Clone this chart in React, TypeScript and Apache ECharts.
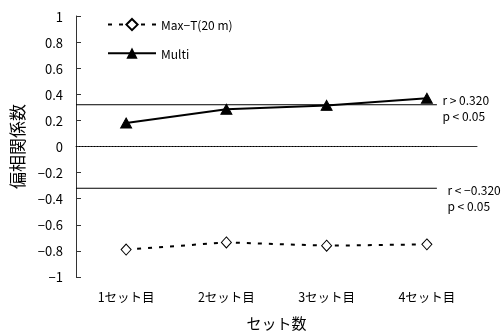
import React, { useEffect, useRef } from "react";
import * as echarts from "echarts";

const categories = ["1セット目", "2セット目", "3セット目", "4セット目"];
const maxTValues = [-0.79, -0.735, -0.76, -0.75];
const multiValues = [0.18, 0.285, 0.315, 0.37];
const posThreshold = 0.32;
const negThreshold = -0.32;
const zeroLevel = 0;
// reference lines span the plot from its left edge to 90% of its width
const refLineX = [0, 3.6];

const FONT = "'Noto Sans CJK JP', 'Noto Sans', sans-serif";

const fmtY = (v: number) => {
  const n = Number(v.toFixed(1));
  return n === 0 ? "0" : String(n).replace("-", "−");
};

export default function App() {
  const ref = useRef<HTMLDivElement>(null);

  useEffect(() => {
    if (!ref.current) return;
    const chart = echarts.init(ref.current, undefined, { renderer: "svg" });

    const refLine = (y: number, type: any, label: any) => ({
      type: "line",
      xAxisIndex: 1,
      yAxisIndex: 0,
      silent: true,
      symbol: "circle",
      symbolSize: 1,
      showSymbol: true,
      itemStyle: { color: "transparent", borderColor: "transparent", borderWidth: 0 },
      lineStyle: { color: "#000", width: 1, type },
      data: refLineX.map((x, i) => ({
        value: [x, y],
        label: i === refLineX.length - 1 && label ? label : { show: false },
      })),
      z: 1,
    });

    const thresholdLabel = (text: string, distance: number, dy: number) => ({
      show: true,
      position: "right",
      distance,
      offset: [0, dy],
      formatter: text,
      fontSize: 12,
      lineHeight: 16,
      color: "#000",
      fontFamily: FONT,
    });

    chart.setOption({
      animation: false,
      textStyle: { fontFamily: FONT },
      grid: { left: 71, right: 27, top: 16, bottom: 47 },
      legend: {
        left: 102,
        top: 13,
        orient: "vertical",
        itemWidth: 48,
        itemHeight: 14,
        itemGap: 16,
        textStyle: { fontSize: 12, color: "#000", fontFamily: FONT },
        data: ["Max−T(20 m)", "Multi"],
      },
      xAxis: [
        {
          type: "category",
          data: categories,
          boundaryGap: true,
          axisLine: { lineStyle: { color: "#333", width: 1 } },
          axisTick: { inside: true, length: 4, lineStyle: { color: "#333" } },
          axisLabel: { color: "#000", fontSize: 12.5, margin: 13, fontFamily: FONT },
          name: "セット数",
          nameLocation: "middle",
          nameGap: 38,
          nameTextStyle: { color: "#000", fontSize: 15, fontFamily: FONT },
        },
        { type: "value", min: 0, max: 4, show: false },
      ],
      yAxis: {
        type: "value",
        min: -1,
        max: 1,
        interval: 0.2,
        splitLine: { show: false },
        axisLine: { show: true, lineStyle: { color: "#333", width: 1 } },
        axisTick: { show: true, inside: true, length: 5, lineStyle: { color: "#333" } },
        axisLabel: { color: "#000", fontSize: 13, margin: 13, formatter: fmtY, fontFamily: FONT },
        name: "偏相関係数",
        nameLocation: "middle",
        nameGap: 51,
        nameRotate: 90,
        nameTextStyle: { color: "#000", fontSize: 17, fontFamily: FONT },
      },
      series: [
        refLine(posThreshold, "solid", thresholdLabel("r > 0.320\np < 0.05", 5, 3)),
        refLine(negThreshold, "solid", thresholdLabel("r < −0.320\np < 0.05", 10, 9)),
        refLine(zeroLevel, [1, 2], null),
        {
          name: "Max−T(20 m)",
          type: "line",
          data: maxTValues,
          symbol: "diamond",
          symbolSize: [10, 11],
          lineStyle: { color: "#000", width: 2, type: [4, 7] },
          itemStyle: { color: "#fff", borderColor: "#000", borderWidth: 1 },
          z: 3,
        },
        {
          name: "Multi",
          type: "line",
          data: multiValues,
          symbol: "triangle",
          symbolSize: [11, 10],
          lineStyle: { color: "#000", width: 2 },
          itemStyle: { color: "#000", borderColor: "#000" },
          z: 3,
        },
      ],
    });

    return () => chart.dispose();
  }, []);

  return (
    <div
      ref={ref}
      style={{ position: "fixed", left: 0, top: 0, width: 504, height: 335 }}
    />
  );
}
